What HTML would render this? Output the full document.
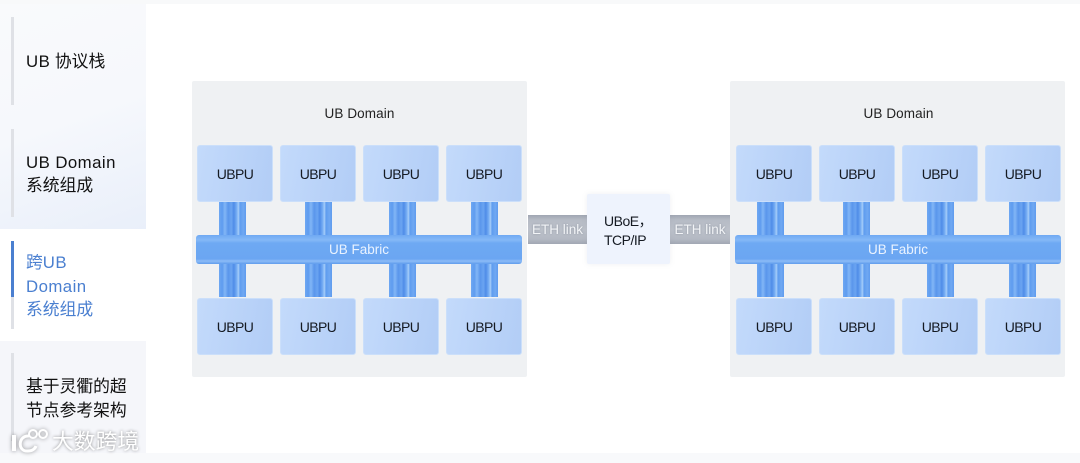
<!DOCTYPE html>
<html><head><meta charset="utf-8">
<style>
html,body{margin:0;padding:0;background:#fff}
#p{position:relative;width:1080px;height:463px;overflow:hidden;background:#fff;font-family:"Liberation Sans","Noto Sans CJK SC",sans-serif;color:#111}
#p div{position:absolute;box-sizing:border-box}
.s{left:11px;width:3px;background:#dfe1e6}
.t{left:26px;font-size:16.8px;line-height:23.5px;white-space:nowrap}
.t b{font-weight:400;letter-spacing:.45px}
.d{width:335px;height:296px;top:81px;background:#eff1f3;border-radius:2px}
.h{font-size:13.5px;line-height:16px;text-align:center;color:#222;top:105.5px;width:335px;letter-spacing:.1px}
.u{width:76px;height:57px;border-radius:3px;background:linear-gradient(100deg,#c3dafb,#b2cdf6);font-size:14px;letter-spacing:-.6px;line-height:57px;text-align:center;color:#151a22;border:1px solid #cbdffa}
.c{width:27px;height:33px;background:linear-gradient(90deg,#6fa8f2 0,#5e9cef 12%,#82b6f6 22%,#5a96ec 34%,#6aa4f1 46%,#4f8ce8 55%,#78aff4 66%,#a5cdf9 72%,#5f9cef 78%,#6fa8f2 90%,#5f9bee 100%)}
.f{height:29px;top:235px;border-radius:3px;background:linear-gradient(180deg,#6fa9f2 0,#85b9f7 5px,#6ea9f3 8px,#6ba6f2 24px,#8cbcf7 26px,#5f9cec 29px);color:#eaf3ff;font-size:13.5px;line-height:30px;text-align:center}
.e{top:215px;height:29px;background:linear-gradient(180deg,#a0a6b2 0,#b6bbc5 5px,#bcc1ca 50%,#b4b9c3 24px,#a1a7b3 100%);color:#f2f4f7;font-size:13.5px;line-height:29px;text-align:center;white-space:nowrap;text-shadow:0 0 2px #8f95a1}
</style></head><body><div id="p">
<div style="left:0;top:0;width:1080px;height:4px;background:#f8f9fa"></div>
<div style="left:0;top:453px;width:1080px;height:10px;background:#f8f9fb"></div>
<div style="left:0;top:4px;width:146px;height:225px;background:linear-gradient(160deg,#f9fafc 0,#f6f8fc 50%,#e9effa 100%)"></div>
<div style="left:0;top:341px;width:146px;height:112px;background:#f5f6fa"></div>

<div class="s" style="top:17px;height:88px"></div>
<div class="s" style="top:129px;height:88px"></div>
<div class="s" style="top:241px;height:88px"></div>
<div class="s" style="top:241px;height:56px;background:#4a7fd0"></div>
<div class="s" style="top:353px;height:88px"></div>

<div class="t" style="top:50px"><b>UB</b> 协议栈</div>
<div class="t" style="top:150.5px"><b>UB Domain</b><br>系统组成</div>
<div class="t" style="top:251px;color:#4a7fd0">跨<b>UB</b><br><b>Domain</b><br>系统组成</div>
<div class="t" style="top:375px">基于灵衢的超<br>节点参考架构</div>

<div class="d" style="left:192px"></div>
<div class="d" style="left:730px"></div>
<div class="h" style="left:192px">UB Domain</div>
<div class="h" style="left:731px">UB Domain</div>

<div class="e" style="left:528px;width:59px">ETH link</div>
<div class="e" style="left:670px;width:60px">ETH link</div>
<div style="left:587px;top:194px;width:83px;height:70px;background:#eef3fd;border-radius:2px;font-size:14px;letter-spacing:-.5px;line-height:18.5px;padding:18px 0 0 17px;color:#151a22;box-shadow:0 0 6px rgba(120,130,150,.12)">UBoE，<br>TCP/IP</div>

<div class="c" style="left:219px;top:202px"></div><div class="c" style="left:305px;top:202px"></div><div class="c" style="left:389px;top:202px"></div><div class="c" style="left:471px;top:202px"></div>
<div class="c" style="left:219px;top:264px"></div><div class="c" style="left:305px;top:264px"></div><div class="c" style="left:389px;top:264px"></div><div class="c" style="left:471px;top:264px"></div>
<div class="c" style="left:757px;top:202px"></div><div class="c" style="left:843px;top:202px"></div><div class="c" style="left:927px;top:202px"></div><div class="c" style="left:1009px;top:202px"></div>
<div class="c" style="left:757px;top:264px"></div><div class="c" style="left:843px;top:264px"></div><div class="c" style="left:927px;top:264px"></div><div class="c" style="left:1009px;top:264px"></div>

<div class="f" style="left:196px;width:326px">UB Fabric</div>
<div class="f" style="left:735px;width:326px">UB Fabric</div>

<div class="u" style="left:197px;top:145px">UBPU</div><div class="u" style="left:280px;top:145px">UBPU</div><div class="u" style="left:363px;top:145px">UBPU</div><div class="u" style="left:446px;top:145px">UBPU</div>
<div class="u" style="left:197px;top:298px">UBPU</div><div class="u" style="left:280px;top:298px">UBPU</div><div class="u" style="left:363px;top:298px">UBPU</div><div class="u" style="left:446px;top:298px">UBPU</div>
<div class="u" style="left:736px;top:145px">UBPU</div><div class="u" style="left:819px;top:145px">UBPU</div><div class="u" style="left:902px;top:145px">UBPU</div><div class="u" style="left:985px;top:145px">UBPU</div>
<div class="u" style="left:736px;top:298px">UBPU</div><div class="u" style="left:819px;top:298px">UBPU</div><div class="u" style="left:902px;top:298px">UBPU</div><div class="u" style="left:985px;top:298px">UBPU</div>

<svg style="position:absolute;left:8px;top:426px;filter:drop-shadow(0 0 2px rgba(0,0,0,.4))" width="46" height="30" fill="none" stroke="#fff" stroke-width="3">
<path d="M6 9 L6 25" stroke-width="4"/><path d="M21 10 C10 9 9 26 20 25 C24 25 27 23 28 20"/><circle cx="25" cy="8" r="4" stroke-width="2"/><circle cx="35" cy="8" r="4" stroke-width="2"/>
</svg>
<div style="left:52px;top:429px;font-size:21.8px;line-height:26px;color:#fff;white-space:nowrap;text-shadow:0 0 3px rgba(0,0,0,.45)">大数跨境</div>
</div></body></html>
